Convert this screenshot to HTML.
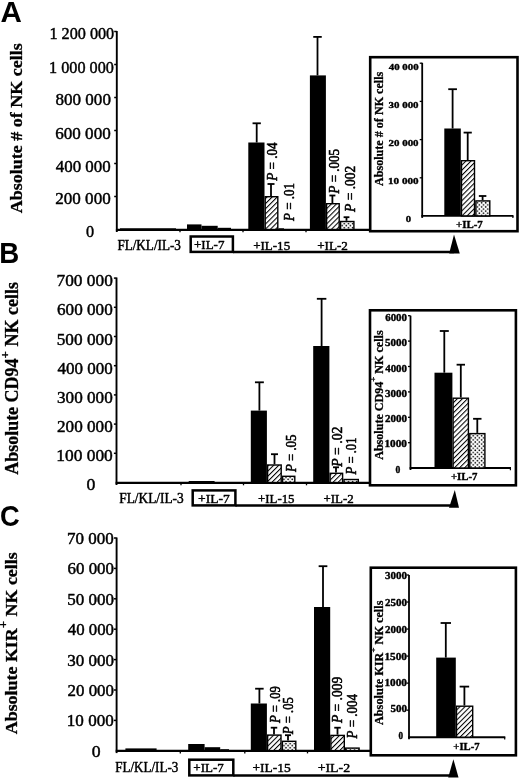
<!DOCTYPE html>
<html><head><meta charset="utf-8"><title>Figure</title>
<style>html,body{margin:0;padding:0;background:#fff;}svg{display:block;will-change:transform;}text{fill:#000;}</style></head>
<body><svg width="520" height="780" viewBox="0 0 520 780">
<defs>
<pattern id="hatch" patternUnits="userSpaceOnUse" width="3.6" height="3.6" patternTransform="rotate(-45)">
<rect width="3.6" height="3.6" fill="#fff"/><rect x="0" y="0" width="3.6" height="1.05" fill="#000"/></pattern>
<pattern id="dots" patternUnits="userSpaceOnUse" width="4.16" height="4.16">
<rect width="4.16" height="4.16" fill="#fff"/><circle cx="1.04" cy="1.04" r="0.85" fill="#000"/><circle cx="3.12" cy="3.12" r="0.85" fill="#000"/></pattern>
</defs>
<rect x="0" y="0" width="520" height="780" fill="#fff"/>
<line x1="116.8" y1="31.0" x2="116.8" y2="232.0" stroke="#000" stroke-width="1.9"/>
<line x1="115.89999999999999" y1="229.8" x2="371" y2="229.8" stroke="#000" stroke-width="2.2"/>
<line x1="114.2" y1="31.5" x2="116.8" y2="31.5" stroke="#000" stroke-width="1.5"/>
<line x1="114.2" y1="64.5" x2="116.8" y2="64.5" stroke="#000" stroke-width="1.5"/>
<line x1="114.2" y1="97.5" x2="116.8" y2="97.5" stroke="#000" stroke-width="1.5"/>
<line x1="114.2" y1="130.5" x2="116.8" y2="130.5" stroke="#000" stroke-width="1.5"/>
<line x1="114.2" y1="163.5" x2="116.8" y2="163.5" stroke="#000" stroke-width="1.5"/>
<line x1="114.2" y1="196.5" x2="116.8" y2="196.5" stroke="#000" stroke-width="1.5"/>
<line x1="180.0" y1="229.5" x2="180.0" y2="232.3" stroke="#000" stroke-width="1.3"/>
<line x1="243.0" y1="229.5" x2="243.0" y2="232.3" stroke="#000" stroke-width="1.3"/>
<line x1="306.0" y1="229.5" x2="306.0" y2="232.3" stroke="#000" stroke-width="1.3"/>
<rect x="120.00" y="228.30" width="56.00" height="1.20" fill="#000"/>
<rect x="187.00" y="224.40" width="14.50" height="5.10" fill="#000"/>
<rect x="201.50" y="225.80" width="16.20" height="3.70" fill="#000"/>
<rect x="217.70" y="227.80" width="13.30" height="1.70" fill="#000"/>
<rect x="248.30" y="142.50" width="16.20" height="87.00" fill="#000"/>
<line x1="256.7" y1="123.3" x2="256.7" y2="142.5" stroke="#000" stroke-width="1.8"/>
<rect x="252.55" y="122.40" width="8.30" height="1.80" fill="#000"/>
<rect x="265.20" y="196.70" width="12.60" height="32.80" fill="url(#hatch)" stroke="#000" stroke-width="1.4"/>
<line x1="271.0" y1="184.0" x2="271.0" y2="196.0" stroke="#000" stroke-width="1.8"/>
<rect x="267.50" y="183.10" width="7.00" height="1.80" fill="#000"/>
<rect x="278.50" y="228.30" width="5.50" height="1.20" fill="#000"/>
<rect x="309.90" y="75.40" width="16.00" height="154.10" fill="#000"/>
<line x1="317.5" y1="36.9" x2="317.5" y2="75.4" stroke="#000" stroke-width="1.8"/>
<rect x="313.25" y="36.00" width="8.50" height="1.80" fill="#000"/>
<rect x="326.60" y="203.70" width="12.60" height="25.80" fill="url(#hatch)" stroke="#000" stroke-width="1.4"/>
<line x1="332.4" y1="195.5" x2="332.4" y2="203.0" stroke="#000" stroke-width="1.8"/>
<rect x="329.40" y="194.60" width="6.00" height="1.80" fill="#000"/>
<rect x="340.60" y="221.50" width="13.30" height="8.00" fill="url(#dots)" stroke="#000" stroke-width="1.4"/>
<line x1="346.5" y1="217.2" x2="346.5" y2="220.8" stroke="#000" stroke-width="1.8"/>
<rect x="343.60" y="216.30" width="5.80" height="1.80" fill="#000"/>
<rect x="190.7" y="236.5" width="42.20000000000002" height="15.400000000000006" fill="none" stroke="#000" stroke-width="2.5"/>
<line x1="232.9" y1="251.9" x2="454.0" y2="251.9" stroke="#000" stroke-width="2.5"/>
<polygon points="454.0,234.6 459.8,253.4 449.2,253.4" fill="#000"/>
<rect x="370.2" y="57.2" width="147.3" height="174.0" fill="#fff" stroke="#000" stroke-width="2.6"/>
<line x1="422.2" y1="62.8" x2="422.2" y2="217.9" stroke="#000" stroke-width="1.8"/>
<line x1="421.3" y1="215.9" x2="513.5" y2="215.9" stroke="#000" stroke-width="1.9"/>
<line x1="512.9" y1="215.9" x2="512.9" y2="218.1" stroke="#000" stroke-width="1.2"/>
<line x1="419.7" y1="63.2" x2="422.2" y2="63.2" stroke="#000" stroke-width="1.3"/>
<line x1="419.7" y1="101.4" x2="422.2" y2="101.4" stroke="#000" stroke-width="1.3"/>
<line x1="419.7" y1="139.60000000000002" x2="422.2" y2="139.60000000000002" stroke="#000" stroke-width="1.3"/>
<line x1="419.7" y1="177.8" x2="422.2" y2="177.8" stroke="#000" stroke-width="1.3"/>
<rect x="444.30" y="128.50" width="16.50" height="87.40" fill="#000"/>
<line x1="452.6" y1="89.2" x2="452.6" y2="128.5" stroke="#000" stroke-width="1.8"/>
<rect x="448.25" y="88.30" width="8.70" height="1.80" fill="#000"/>
<rect x="461.50" y="160.70" width="13.00" height="55.20" fill="url(#hatch)" stroke="#000" stroke-width="1.4"/>
<line x1="467.7" y1="132.6" x2="467.7" y2="160.0" stroke="#000" stroke-width="1.8"/>
<rect x="463.60" y="131.70" width="8.20" height="1.80" fill="#000"/>
<rect x="475.90" y="200.90" width="13.90" height="15.00" fill="url(#dots)" stroke="#000" stroke-width="1.4"/>
<line x1="482.6" y1="196.0" x2="482.6" y2="200.2" stroke="#000" stroke-width="1.8"/>
<rect x="478.85" y="195.10" width="7.50" height="1.80" fill="#000"/>
<line x1="116.5" y1="277.5" x2="116.5" y2="485.0" stroke="#000" stroke-width="1.9"/>
<line x1="115.6" y1="482.8" x2="371" y2="482.8" stroke="#000" stroke-width="2.2"/>
<line x1="113.9" y1="278.1" x2="116.5" y2="278.1" stroke="#000" stroke-width="1.5"/>
<line x1="113.9" y1="307.3" x2="116.5" y2="307.3" stroke="#000" stroke-width="1.5"/>
<line x1="113.9" y1="336.5" x2="116.5" y2="336.5" stroke="#000" stroke-width="1.5"/>
<line x1="113.9" y1="365.70000000000005" x2="116.5" y2="365.70000000000005" stroke="#000" stroke-width="1.5"/>
<line x1="113.9" y1="394.90000000000003" x2="116.5" y2="394.90000000000003" stroke="#000" stroke-width="1.5"/>
<line x1="113.9" y1="424.1" x2="116.5" y2="424.1" stroke="#000" stroke-width="1.5"/>
<line x1="113.9" y1="453.3" x2="116.5" y2="453.3" stroke="#000" stroke-width="1.5"/>
<line x1="181.0" y1="482.5" x2="181.0" y2="485.3" stroke="#000" stroke-width="1.3"/>
<line x1="243.5" y1="482.5" x2="243.5" y2="485.3" stroke="#000" stroke-width="1.3"/>
<line x1="306.5" y1="482.5" x2="306.5" y2="485.3" stroke="#000" stroke-width="1.3"/>
<rect x="188.70" y="481.00" width="25.90" height="1.50" fill="#000"/>
<rect x="250.80" y="410.60" width="16.10" height="71.90" fill="#000"/>
<line x1="259.4" y1="382.3" x2="259.4" y2="410.6" stroke="#000" stroke-width="1.8"/>
<rect x="254.95" y="381.40" width="8.90" height="1.80" fill="#000"/>
<rect x="267.60" y="465.00" width="13.60" height="17.50" fill="url(#hatch)" stroke="#000" stroke-width="1.4"/>
<line x1="274.5" y1="454.2" x2="274.5" y2="464.3" stroke="#000" stroke-width="1.8"/>
<rect x="271.00" y="453.30" width="7.00" height="1.80" fill="#000"/>
<rect x="282.60" y="476.30" width="12.20" height="6.20" fill="url(#dots)" stroke="#000" stroke-width="1.4"/>
<rect x="313.20" y="346.00" width="16.20" height="136.50" fill="#000"/>
<line x1="321.6" y1="298.8" x2="321.6" y2="346.0" stroke="#000" stroke-width="1.8"/>
<rect x="316.85" y="297.90" width="9.50" height="1.80" fill="#000"/>
<rect x="330.10" y="473.30" width="12.50" height="9.20" fill="url(#hatch)" stroke="#000" stroke-width="1.4"/>
<line x1="336.0" y1="467.3" x2="336.0" y2="472.6" stroke="#000" stroke-width="1.8"/>
<rect x="333.00" y="466.40" width="6.00" height="1.80" fill="#000"/>
<rect x="344.00" y="479.50" width="14.30" height="3.00" fill="url(#dots)" stroke="#000" stroke-width="1.4"/>
<rect x="192.7" y="490.4" width="42.70000000000002" height="15.0" fill="none" stroke="#000" stroke-width="2.5"/>
<line x1="235.4" y1="505.4" x2="454.8" y2="505.4" stroke="#000" stroke-width="2.5"/>
<polygon points="454.8,490.0 459.0,507.7 449.0,507.7" fill="#000"/>
<rect x="370.0" y="310.3" width="145.89999999999998" height="175.0" fill="#fff" stroke="#000" stroke-width="2.6"/>
<line x1="410.5" y1="315.7" x2="410.5" y2="470.0" stroke="#000" stroke-width="1.8"/>
<line x1="409.6" y1="468.0" x2="511.0" y2="468.0" stroke="#000" stroke-width="1.9"/>
<line x1="510.4" y1="468.0" x2="510.4" y2="470.2" stroke="#000" stroke-width="1.2"/>
<line x1="408.0" y1="315.7" x2="410.5" y2="315.7" stroke="#000" stroke-width="1.3"/>
<line x1="408.0" y1="341.09999999999997" x2="410.5" y2="341.09999999999997" stroke="#000" stroke-width="1.3"/>
<line x1="408.0" y1="366.5" x2="410.5" y2="366.5" stroke="#000" stroke-width="1.3"/>
<line x1="408.0" y1="391.9" x2="410.5" y2="391.9" stroke="#000" stroke-width="1.3"/>
<line x1="408.0" y1="417.29999999999995" x2="410.5" y2="417.29999999999995" stroke="#000" stroke-width="1.3"/>
<line x1="408.0" y1="442.7" x2="410.5" y2="442.7" stroke="#000" stroke-width="1.3"/>
<rect x="434.50" y="372.70" width="17.90" height="95.30" fill="#000"/>
<line x1="444.3" y1="331.0" x2="444.3" y2="372.7" stroke="#000" stroke-width="1.8"/>
<rect x="439.80" y="330.10" width="9.00" height="1.80" fill="#000"/>
<rect x="453.10" y="398.20" width="15.30" height="69.80" fill="url(#hatch)" stroke="#000" stroke-width="1.4"/>
<line x1="460.8" y1="364.7" x2="460.8" y2="397.5" stroke="#000" stroke-width="1.8"/>
<rect x="456.60" y="363.80" width="8.40" height="1.80" fill="#000"/>
<rect x="469.80" y="433.60" width="15.10" height="34.40" fill="url(#dots)" stroke="#000" stroke-width="1.4"/>
<line x1="477.3" y1="418.8" x2="477.3" y2="432.9" stroke="#000" stroke-width="1.8"/>
<rect x="473.10" y="417.90" width="8.40" height="1.80" fill="#000"/>
<line x1="116.6" y1="537.5" x2="116.6" y2="753.1" stroke="#000" stroke-width="1.9"/>
<line x1="115.69999999999999" y1="750.9" x2="371" y2="750.9" stroke="#000" stroke-width="2.2"/>
<line x1="114.0" y1="538.0" x2="116.6" y2="538.0" stroke="#000" stroke-width="1.5"/>
<line x1="114.0" y1="568.4" x2="116.6" y2="568.4" stroke="#000" stroke-width="1.5"/>
<line x1="114.0" y1="598.8" x2="116.6" y2="598.8" stroke="#000" stroke-width="1.5"/>
<line x1="114.0" y1="629.2" x2="116.6" y2="629.2" stroke="#000" stroke-width="1.5"/>
<line x1="114.0" y1="659.6" x2="116.6" y2="659.6" stroke="#000" stroke-width="1.5"/>
<line x1="114.0" y1="690.0" x2="116.6" y2="690.0" stroke="#000" stroke-width="1.5"/>
<line x1="114.0" y1="720.4" x2="116.6" y2="720.4" stroke="#000" stroke-width="1.5"/>
<line x1="180.3" y1="750.6" x2="180.3" y2="753.4" stroke="#000" stroke-width="1.3"/>
<line x1="244.8" y1="750.6" x2="244.8" y2="753.4" stroke="#000" stroke-width="1.3"/>
<line x1="307.5" y1="750.6" x2="307.5" y2="753.4" stroke="#000" stroke-width="1.3"/>
<rect x="125.40" y="748.40" width="31.20" height="2.20" fill="#000"/>
<rect x="188.20" y="744.00" width="16.40" height="6.60" fill="#000"/>
<rect x="204.60" y="747.20" width="15.60" height="3.40" fill="#000"/>
<rect x="220.20" y="749.20" width="8.80" height="1.40" fill="#000"/>
<rect x="250.80" y="703.50" width="16.10" height="47.10" fill="#000"/>
<line x1="259.4" y1="688.7" x2="259.4" y2="703.5" stroke="#000" stroke-width="1.8"/>
<rect x="255.15" y="687.80" width="8.50" height="1.80" fill="#000"/>
<rect x="267.60" y="735.10" width="13.40" height="15.50" fill="url(#hatch)" stroke="#000" stroke-width="1.4"/>
<line x1="274.0" y1="727.7" x2="274.0" y2="734.4" stroke="#000" stroke-width="1.8"/>
<rect x="270.75" y="726.80" width="6.50" height="1.80" fill="#000"/>
<rect x="282.40" y="741.30" width="13.40" height="9.30" fill="url(#dots)" stroke="#000" stroke-width="1.4"/>
<line x1="288.0" y1="735.2" x2="288.0" y2="740.6" stroke="#000" stroke-width="1.8"/>
<rect x="285.00" y="734.30" width="6.00" height="1.80" fill="#000"/>
<rect x="314.00" y="607.00" width="16.20" height="143.60" fill="#000"/>
<line x1="323.0" y1="566.2" x2="323.0" y2="607.0" stroke="#000" stroke-width="1.8"/>
<rect x="318.65" y="565.30" width="8.70" height="1.80" fill="#000"/>
<rect x="330.90" y="735.40" width="13.40" height="15.20" fill="url(#hatch)" stroke="#000" stroke-width="1.4"/>
<line x1="337.5" y1="727.7" x2="337.5" y2="734.7" stroke="#000" stroke-width="1.8"/>
<rect x="334.25" y="726.80" width="6.50" height="1.80" fill="#000"/>
<rect x="345.70" y="748.10" width="13.40" height="2.50" fill="url(#dots)" stroke="#000" stroke-width="1.4"/>
<rect x="189.3" y="759.7" width="44.0" height="15.699999999999932" fill="none" stroke="#000" stroke-width="2.5"/>
<line x1="233.3" y1="775.4" x2="453.4" y2="775.4" stroke="#000" stroke-width="2.5"/>
<polygon points="453.4,759.2 458.5,777.4 448.2,777.4" fill="#000"/>
<rect x="370.8" y="567.7" width="145.09999999999997" height="187.5999999999999" fill="#fff" stroke="#000" stroke-width="2.6"/>
<line x1="409.0" y1="575.0" x2="409.0" y2="739.2" stroke="#000" stroke-width="1.8"/>
<line x1="408.1" y1="737.2" x2="505.3" y2="737.2" stroke="#000" stroke-width="1.9"/>
<line x1="504.7" y1="737.2" x2="504.7" y2="739.4000000000001" stroke="#000" stroke-width="1.2"/>
<line x1="406.5" y1="575.0" x2="409.0" y2="575.0" stroke="#000" stroke-width="1.3"/>
<line x1="406.5" y1="602.03" x2="409.0" y2="602.03" stroke="#000" stroke-width="1.3"/>
<line x1="406.5" y1="629.06" x2="409.0" y2="629.06" stroke="#000" stroke-width="1.3"/>
<line x1="406.5" y1="656.09" x2="409.0" y2="656.09" stroke="#000" stroke-width="1.3"/>
<line x1="406.5" y1="683.12" x2="409.0" y2="683.12" stroke="#000" stroke-width="1.3"/>
<line x1="406.5" y1="710.15" x2="409.0" y2="710.15" stroke="#000" stroke-width="1.3"/>
<rect x="436.20" y="657.60" width="19.60" height="79.60" fill="#000"/>
<line x1="445.8" y1="623.0" x2="445.8" y2="657.6" stroke="#000" stroke-width="1.8"/>
<rect x="440.60" y="622.10" width="10.40" height="1.80" fill="#000"/>
<rect x="456.50" y="706.20" width="16.20" height="31.00" fill="url(#hatch)" stroke="#000" stroke-width="1.4"/>
<line x1="464.4" y1="686.6" x2="464.4" y2="705.5" stroke="#000" stroke-width="1.8"/>
<rect x="459.65" y="685.70" width="9.50" height="1.80" fill="#000"/>
<text id="LA" x="0.50" y="21.50" textLength="21.37" lengthAdjust="spacingAndGlyphs" style="font-family:'Liberation Sans', sans-serif;font-weight:bold;font-style:normal;font-size:29.17px">A</text>
<text id="LB" x="-0.75" y="262.70" textLength="19.99" lengthAdjust="spacingAndGlyphs" style="font-family:'Liberation Sans', sans-serif;font-weight:bold;font-style:normal;font-size:29.17px">B</text>
<text id="LC" x="-0.00" y="526.40" textLength="19.71" lengthAdjust="spacingAndGlyphs" style="font-family:'Liberation Sans', sans-serif;font-weight:bold;font-style:normal;font-size:29.88px">C</text>
<text id="YA" transform="translate(21.75,213.30) rotate(-90)" textLength="170.00" lengthAdjust="spacingAndGlyphs" style="font-family:'Liberation Serif', serif;font-weight:bold;font-style:normal;font-size:17.57px;stroke:#000;stroke-width:0.30px;stroke-linejoin:round">Absolute # of NK cells</text>
<text id="YB" transform="translate(18.25,474.85) rotate(-90)" textLength="192.75" lengthAdjust="spacingAndGlyphs" style="font-family:'Liberation Serif', serif;font-weight:bold;font-style:normal;font-size:17.84px;stroke:#000;stroke-width:0.30px;stroke-linejoin:round">Absolute CD94<tspan class="sup" font-size="12.85" font-weight="bold" dy="-9.28">+</tspan><tspan dy="9.28"> NK cells</tspan></text>
<text id="YC" transform="translate(16.50,734.25) rotate(-90)" textLength="182.00" lengthAdjust="spacingAndGlyphs" style="font-family:'Liberation Serif', serif;font-weight:bold;font-style:normal;font-size:17.46px;stroke:#000;stroke-width:0.30px;stroke-linejoin:round">Absolute KIR<tspan class="sup" font-size="12.57" font-weight="bold" dy="-9.08">+</tspan><tspan dy="9.08"> NK cells</tspan></text>
<text id="TA0" x="49.40" y="39.00" textLength="64.78" lengthAdjust="spacingAndGlyphs" style="font-family:'Liberation Serif', serif;font-weight:normal;font-style:normal;font-size:16.71px;stroke:#000;stroke-width:0.45px;stroke-linejoin:round">1 200 000</text>
<text id="TA1" x="49.05" y="72.50" textLength="64.80" lengthAdjust="spacingAndGlyphs" style="font-family:'Liberation Serif', serif;font-weight:normal;font-style:normal;font-size:16.71px;stroke:#000;stroke-width:0.45px;stroke-linejoin:round">1 000 000</text>
<text id="TA2" x="55.50" y="105.00" textLength="55.42" lengthAdjust="spacingAndGlyphs" style="font-family:'Liberation Serif', serif;font-weight:normal;font-style:normal;font-size:16.71px;stroke:#000;stroke-width:0.45px;stroke-linejoin:round">800 000</text>
<text id="TA3" x="55.25" y="138.50" textLength="55.48" lengthAdjust="spacingAndGlyphs" style="font-family:'Liberation Serif', serif;font-weight:normal;font-style:normal;font-size:16.71px;stroke:#000;stroke-width:0.45px;stroke-linejoin:round">600 000</text>
<text id="TA4" x="55.75" y="171.50" textLength="54.96" lengthAdjust="spacingAndGlyphs" style="font-family:'Liberation Serif', serif;font-weight:normal;font-style:normal;font-size:16.71px;stroke:#000;stroke-width:0.45px;stroke-linejoin:round">400 000</text>
<text id="TA5" x="55.25" y="204.20" textLength="55.48" lengthAdjust="spacingAndGlyphs" style="font-family:'Liberation Serif', serif;font-weight:normal;font-style:normal;font-size:16.71px;stroke:#000;stroke-width:0.45px;stroke-linejoin:round">200 000</text>
<text id="TA6" x="85.95" y="237.00" textLength="8.10" lengthAdjust="spacingAndGlyphs" style="font-family:'Liberation Serif', serif;font-weight:normal;font-style:normal;font-size:16.71px;stroke:#000;stroke-width:0.45px;stroke-linejoin:round">0</text>
<text id="TB0" x="56.50" y="286.10" textLength="56.29" lengthAdjust="spacingAndGlyphs" style="font-family:'Liberation Serif', serif;font-weight:normal;font-style:normal;font-size:16.71px;stroke:#000;stroke-width:0.45px;stroke-linejoin:round">700 000</text>
<text id="TB1" x="57.00" y="315.30" textLength="55.77" lengthAdjust="spacingAndGlyphs" style="font-family:'Liberation Serif', serif;font-weight:normal;font-style:normal;font-size:16.71px;stroke:#000;stroke-width:0.45px;stroke-linejoin:round">600 000</text>
<text id="TB2" x="56.75" y="344.50" textLength="56.03" lengthAdjust="spacingAndGlyphs" style="font-family:'Liberation Serif', serif;font-weight:normal;font-style:normal;font-size:16.71px;stroke:#000;stroke-width:0.45px;stroke-linejoin:round">500 000</text>
<text id="TB3" x="57.50" y="373.70" textLength="55.25" lengthAdjust="spacingAndGlyphs" style="font-family:'Liberation Serif', serif;font-weight:normal;font-style:normal;font-size:16.71px;stroke:#000;stroke-width:0.45px;stroke-linejoin:round">400 000</text>
<text id="TB4" x="57.00" y="402.90" textLength="55.77" lengthAdjust="spacingAndGlyphs" style="font-family:'Liberation Serif', serif;font-weight:normal;font-style:normal;font-size:16.71px;stroke:#000;stroke-width:0.45px;stroke-linejoin:round">300 000</text>
<text id="TB5" x="57.00" y="432.10" textLength="55.77" lengthAdjust="spacingAndGlyphs" style="font-family:'Liberation Serif', serif;font-weight:normal;font-style:normal;font-size:16.71px;stroke:#000;stroke-width:0.45px;stroke-linejoin:round">200 000</text>
<text id="TB6" x="56.25" y="461.30" textLength="56.55" lengthAdjust="spacingAndGlyphs" style="font-family:'Liberation Serif', serif;font-weight:normal;font-style:normal;font-size:16.71px;stroke:#000;stroke-width:0.45px;stroke-linejoin:round">100 000</text>
<text id="TB7" x="86.50" y="490.10" textLength="8.87" lengthAdjust="spacingAndGlyphs" style="font-family:'Liberation Serif', serif;font-weight:normal;font-style:normal;font-size:16.71px;stroke:#000;stroke-width:0.45px;stroke-linejoin:round">0</text>
<text id="TC0" x="67.05" y="544.05" textLength="46.76" lengthAdjust="spacingAndGlyphs" style="font-family:'Liberation Serif', serif;font-weight:normal;font-style:normal;font-size:15.85px;stroke:#000;stroke-width:0.45px;stroke-linejoin:round">70 000</text>
<text id="TC1" x="67.55" y="574.45" textLength="46.48" lengthAdjust="spacingAndGlyphs" style="font-family:'Liberation Serif', serif;font-weight:normal;font-style:normal;font-size:15.85px;stroke:#000;stroke-width:0.45px;stroke-linejoin:round">60 000</text>
<text id="TC2" x="67.30" y="604.85" textLength="46.75" lengthAdjust="spacingAndGlyphs" style="font-family:'Liberation Serif', serif;font-weight:normal;font-style:normal;font-size:15.85px;stroke:#000;stroke-width:0.45px;stroke-linejoin:round">50 000</text>
<text id="TC3" x="67.80" y="635.25" textLength="46.22" lengthAdjust="spacingAndGlyphs" style="font-family:'Liberation Serif', serif;font-weight:normal;font-style:normal;font-size:15.85px;stroke:#000;stroke-width:0.45px;stroke-linejoin:round">40 000</text>
<text id="TC4" x="67.30" y="665.65" textLength="46.75" lengthAdjust="spacingAndGlyphs" style="font-family:'Liberation Serif', serif;font-weight:normal;font-style:normal;font-size:15.85px;stroke:#000;stroke-width:0.45px;stroke-linejoin:round">30 000</text>
<text id="TC5" x="67.55" y="696.05" textLength="46.48" lengthAdjust="spacingAndGlyphs" style="font-family:'Liberation Serif', serif;font-weight:normal;font-style:normal;font-size:15.85px;stroke:#000;stroke-width:0.45px;stroke-linejoin:round">20 000</text>
<text id="TC6" x="66.80" y="726.45" textLength="47.03" lengthAdjust="spacingAndGlyphs" style="font-family:'Liberation Serif', serif;font-weight:normal;font-style:normal;font-size:15.85px;stroke:#000;stroke-width:0.45px;stroke-linejoin:round">10 000</text>
<text id="TC7" x="91.80" y="757.25" textLength="8.85" lengthAdjust="spacingAndGlyphs" style="font-family:'Liberation Serif', serif;font-weight:normal;font-style:normal;font-size:15.85px;stroke:#000;stroke-width:0.45px;stroke-linejoin:round">0</text>
<text id="IA0" x="388.80" y="70.00" textLength="29.75" lengthAdjust="spacingAndGlyphs" style="font-family:'Liberation Serif', serif;font-weight:bold;font-style:normal;font-size:8.66px;stroke:#000;stroke-width:0.35px;stroke-linejoin:round">40 000</text>
<text id="IA1" x="388.55" y="107.50" textLength="30.03" lengthAdjust="spacingAndGlyphs" style="font-family:'Liberation Serif', serif;font-weight:bold;font-style:normal;font-size:8.66px;stroke:#000;stroke-width:0.35px;stroke-linejoin:round">30 000</text>
<text id="IA2" x="388.55" y="145.90" textLength="30.03" lengthAdjust="spacingAndGlyphs" style="font-family:'Liberation Serif', serif;font-weight:bold;font-style:normal;font-size:8.66px;stroke:#000;stroke-width:0.35px;stroke-linejoin:round">20 000</text>
<text id="IA3" x="388.05" y="184.20" textLength="30.55" lengthAdjust="spacingAndGlyphs" style="font-family:'Liberation Serif', serif;font-weight:bold;font-style:normal;font-size:8.66px;stroke:#000;stroke-width:0.35px;stroke-linejoin:round">10 000</text>
<text id="IA4" x="405.75" y="221.50" textLength="5.33" lengthAdjust="spacingAndGlyphs" style="font-family:'Liberation Serif', serif;font-weight:bold;font-style:normal;font-size:8.66px;stroke:#000;stroke-width:0.35px;stroke-linejoin:round">0</text>
<text id="IB0" x="385.20" y="321.40" textLength="21.77" lengthAdjust="spacingAndGlyphs" style="font-family:'Liberation Serif', serif;font-weight:bold;font-style:normal;font-size:9.34px;stroke:#000;stroke-width:0.35px;stroke-linejoin:round">6000</text>
<text id="IB1" x="384.95" y="346.10" textLength="22.02" lengthAdjust="spacingAndGlyphs" style="font-family:'Liberation Serif', serif;font-weight:bold;font-style:normal;font-size:9.34px;stroke:#000;stroke-width:0.35px;stroke-linejoin:round">5000</text>
<text id="IB2" x="385.20" y="371.50" textLength="21.76" lengthAdjust="spacingAndGlyphs" style="font-family:'Liberation Serif', serif;font-weight:bold;font-style:normal;font-size:9.34px;stroke:#000;stroke-width:0.35px;stroke-linejoin:round">4000</text>
<text id="IB3" x="384.95" y="396.50" textLength="22.02" lengthAdjust="spacingAndGlyphs" style="font-family:'Liberation Serif', serif;font-weight:bold;font-style:normal;font-size:9.34px;stroke:#000;stroke-width:0.35px;stroke-linejoin:round">3000</text>
<text id="IB4" x="384.95" y="421.90" textLength="22.02" lengthAdjust="spacingAndGlyphs" style="font-family:'Liberation Serif', serif;font-weight:bold;font-style:normal;font-size:9.34px;stroke:#000;stroke-width:0.35px;stroke-linejoin:round">2000</text>
<text id="IB5" x="384.45" y="447.30" textLength="22.54" lengthAdjust="spacingAndGlyphs" style="font-family:'Liberation Serif', serif;font-weight:bold;font-style:normal;font-size:9.34px;stroke:#000;stroke-width:0.35px;stroke-linejoin:round">1000</text>
<text id="IB6" x="395.40" y="473.10" textLength="4.80" lengthAdjust="spacingAndGlyphs" style="font-family:'Liberation Serif', serif;font-weight:bold;font-style:normal;font-size:9.34px;stroke:#000;stroke-width:0.35px;stroke-linejoin:round">0</text>
<text id="IC0" x="384.95" y="578.70" textLength="22.02" lengthAdjust="spacingAndGlyphs" style="font-family:'Liberation Serif', serif;font-weight:bold;font-style:normal;font-size:9.68px;stroke:#000;stroke-width:0.35px;stroke-linejoin:round">3000</text>
<text id="IC1" x="384.95" y="606.00" textLength="22.02" lengthAdjust="spacingAndGlyphs" style="font-family:'Liberation Serif', serif;font-weight:bold;font-style:normal;font-size:9.68px;stroke:#000;stroke-width:0.35px;stroke-linejoin:round">2500</text>
<text id="IC2" x="384.95" y="633.05" textLength="22.02" lengthAdjust="spacingAndGlyphs" style="font-family:'Liberation Serif', serif;font-weight:bold;font-style:normal;font-size:9.68px;stroke:#000;stroke-width:0.35px;stroke-linejoin:round">2000</text>
<text id="IC3" x="384.45" y="659.70" textLength="22.55" lengthAdjust="spacingAndGlyphs" style="font-family:'Liberation Serif', serif;font-weight:bold;font-style:normal;font-size:9.68px;stroke:#000;stroke-width:0.35px;stroke-linejoin:round">1500</text>
<text id="IC4" x="384.45" y="686.00" textLength="22.55" lengthAdjust="spacingAndGlyphs" style="font-family:'Liberation Serif', serif;font-weight:bold;font-style:normal;font-size:9.68px;stroke:#000;stroke-width:0.35px;stroke-linejoin:round">1000</text>
<text id="IC5" x="390.45" y="712.35" textLength="16.53" lengthAdjust="spacingAndGlyphs" style="font-family:'Liberation Serif', serif;font-weight:bold;font-style:normal;font-size:9.68px;stroke:#000;stroke-width:0.35px;stroke-linejoin:round">500</text>
<text id="IC6" x="398.55" y="739.15" textLength="4.56" lengthAdjust="spacingAndGlyphs" style="font-family:'Liberation Serif', serif;font-weight:bold;font-style:normal;font-size:9.68px;stroke:#000;stroke-width:0.35px;stroke-linejoin:round">0</text>
<text id="JA" transform="translate(382.95,186.00) rotate(-90)" textLength="114.25" lengthAdjust="spacingAndGlyphs" style="font-family:'Liberation Serif', serif;font-weight:bold;font-style:normal;font-size:12.23px;stroke:#000;stroke-width:0.30px;stroke-linejoin:round">Absolute # of NK cells</text>
<text id="JB" transform="translate(382.80,459.85) rotate(-90)" textLength="129.50" lengthAdjust="spacingAndGlyphs" style="font-family:'Liberation Serif', serif;font-weight:bold;font-style:normal;font-size:12.21px;stroke:#000;stroke-width:0.30px;stroke-linejoin:round">Absolute CD94<tspan class="sup" font-size="8.79" font-weight="bold" dy="-6.35">+</tspan><tspan dy="6.35"> NK cells</tspan></text>
<text id="JC" transform="translate(382.80,725.05) rotate(-90)" textLength="124.50" lengthAdjust="spacingAndGlyphs" style="font-family:'Liberation Serif', serif;font-weight:bold;font-style:normal;font-size:12.39px;stroke:#000;stroke-width:0.30px;stroke-linejoin:round">Absolute KIR<tspan class="sup" font-size="8.92" font-weight="bold" dy="-6.44">+</tspan><tspan dy="6.44"> NK cells</tspan></text>
<text id="XA1" x="117.40" y="249.90" textLength="63.50" lengthAdjust="spacingAndGlyphs" style="font-family:'Liberation Serif', serif;font-weight:normal;font-style:normal;font-size:13.90px;stroke:#000;stroke-width:0.45px;stroke-linejoin:round">FL/KL/IL-3</text>
<text id="XA2" x="193.95" y="249.25" textLength="30.51" lengthAdjust="spacingAndGlyphs" style="font-family:'Liberation Serif', serif;font-weight:normal;font-style:normal;font-size:13.07px;stroke:#000;stroke-width:0.45px;stroke-linejoin:round">+IL-7</text>
<text id="XA3" x="253.15" y="250.20" textLength="37.01" lengthAdjust="spacingAndGlyphs" style="font-family:'Liberation Serif', serif;font-weight:normal;font-style:normal;font-size:13.07px;stroke:#000;stroke-width:0.45px;stroke-linejoin:round">+IL-15</text>
<text id="XA4" x="317.15" y="250.20" textLength="30.77" lengthAdjust="spacingAndGlyphs" style="font-family:'Liberation Serif', serif;font-weight:normal;font-style:normal;font-size:13.07px;stroke:#000;stroke-width:0.45px;stroke-linejoin:round">+IL-2</text>
<text id="XB1" x="119.25" y="502.95" textLength="64.50" lengthAdjust="spacingAndGlyphs" style="font-family:'Liberation Serif', serif;font-weight:normal;font-style:normal;font-size:13.90px;stroke:#000;stroke-width:0.45px;stroke-linejoin:round">FL/KL/IL-3</text>
<text id="XB2" x="198.00" y="503.25" textLength="31.77" lengthAdjust="spacingAndGlyphs" style="font-family:'Liberation Serif', serif;font-weight:normal;font-style:normal;font-size:13.07px;stroke:#000;stroke-width:0.45px;stroke-linejoin:round">+IL-7</text>
<text id="XB3" x="258.00" y="503.40" textLength="36.52" lengthAdjust="spacingAndGlyphs" style="font-family:'Liberation Serif', serif;font-weight:normal;font-style:normal;font-size:13.07px;stroke:#000;stroke-width:0.45px;stroke-linejoin:round">+IL-15</text>
<text id="XB4" x="323.45" y="503.40" textLength="30.27" lengthAdjust="spacingAndGlyphs" style="font-family:'Liberation Serif', serif;font-weight:normal;font-style:normal;font-size:13.07px;stroke:#000;stroke-width:0.45px;stroke-linejoin:round">+IL-2</text>
<text id="XC1" x="115.25" y="772.25" textLength="63.00" lengthAdjust="spacingAndGlyphs" style="font-family:'Liberation Serif', serif;font-weight:normal;font-style:normal;font-size:13.90px;stroke:#000;stroke-width:0.45px;stroke-linejoin:round">FL/KL/IL-3</text>
<text id="XC2" x="193.30" y="772.20" textLength="30.51" lengthAdjust="spacingAndGlyphs" style="font-family:'Liberation Serif', serif;font-weight:normal;font-style:normal;font-size:13.07px;stroke:#000;stroke-width:0.45px;stroke-linejoin:round">+IL-7</text>
<text id="XC3" x="252.50" y="771.50" textLength="38.27" lengthAdjust="spacingAndGlyphs" style="font-family:'Liberation Serif', serif;font-weight:normal;font-style:normal;font-size:13.07px;stroke:#000;stroke-width:0.45px;stroke-linejoin:round">+IL-15</text>
<text id="XC4" x="317.65" y="771.50" textLength="32.53" lengthAdjust="spacingAndGlyphs" style="font-family:'Liberation Serif', serif;font-weight:normal;font-style:normal;font-size:13.07px;stroke:#000;stroke-width:0.45px;stroke-linejoin:round">+IL-2</text>
<text id="KA" x="456.00" y="228.30" textLength="26.76" lengthAdjust="spacingAndGlyphs" style="font-family:'Liberation Serif', serif;font-weight:bold;font-style:normal;font-size:10.53px;stroke:#000;stroke-width:0.35px;stroke-linejoin:round">+IL-7</text>
<text id="KB" x="450.95" y="480.30" textLength="26.51" lengthAdjust="spacingAndGlyphs" style="font-family:'Liberation Serif', serif;font-weight:bold;font-style:normal;font-size:10.53px;stroke:#000;stroke-width:0.35px;stroke-linejoin:round">+IL-7</text>
<text id="KC" x="453.30" y="749.50" textLength="26.26" lengthAdjust="spacingAndGlyphs" style="font-family:'Liberation Serif', serif;font-weight:bold;font-style:normal;font-size:10.53px;stroke:#000;stroke-width:0.35px;stroke-linejoin:round">+IL-7</text>
<text id="PA1" transform="translate(276.80,180.75) rotate(-90)" textLength="38.26" lengthAdjust="spacingAndGlyphs" style="font-family:'Liberation Serif', serif;font-weight:normal;font-style:normal;font-size:14.00px;stroke:#000;stroke-width:0.55px;stroke-linejoin:round"><tspan font-style="italic">P</tspan> = .04</text>
<text id="PA2" transform="translate(294.15,220.90) rotate(-90)" textLength="38.01" lengthAdjust="spacingAndGlyphs" style="font-family:'Liberation Serif', serif;font-weight:normal;font-style:normal;font-size:14.00px;stroke:#000;stroke-width:0.55px;stroke-linejoin:round"><tspan font-style="italic">P</tspan> = .01</text>
<text id="PA3" transform="translate(339.10,193.45) rotate(-90)" textLength="44.50" lengthAdjust="spacingAndGlyphs" style="font-family:'Liberation Serif', serif;font-weight:normal;font-style:normal;font-size:14.00px;stroke:#000;stroke-width:0.55px;stroke-linejoin:round"><tspan font-style="italic">P</tspan> = .005</text>
<text id="PA4" transform="translate(354.50,211.95) rotate(-90)" textLength="46.25" lengthAdjust="spacingAndGlyphs" style="font-family:'Liberation Serif', serif;font-weight:normal;font-style:normal;font-size:14.00px;stroke:#000;stroke-width:0.55px;stroke-linejoin:round"><tspan font-style="italic">P</tspan> = .002</text>
<text id="PB1" transform="translate(296.40,472.05) rotate(-90)" textLength="37.50" lengthAdjust="spacingAndGlyphs" style="font-family:'Liberation Serif', serif;font-weight:normal;font-style:normal;font-size:14.00px;stroke:#000;stroke-width:0.55px;stroke-linejoin:round"><tspan font-style="italic">P</tspan> = .05</text>
<text id="PB2" transform="translate(341.85,466.75) rotate(-90)" textLength="40.25" lengthAdjust="spacingAndGlyphs" style="font-family:'Liberation Serif', serif;font-weight:normal;font-style:normal;font-size:14.00px;stroke:#000;stroke-width:0.55px;stroke-linejoin:round"><tspan font-style="italic">P</tspan> = .02</text>
<text id="PB3" transform="translate(356.30,474.50) rotate(-90)" textLength="37.00" lengthAdjust="spacingAndGlyphs" style="font-family:'Liberation Serif', serif;font-weight:normal;font-style:normal;font-size:14.00px;stroke:#000;stroke-width:0.55px;stroke-linejoin:round"><tspan font-style="italic">P</tspan> = .01</text>
<text id="PC1" transform="translate(279.80,723.05) rotate(-90)" textLength="37.00" lengthAdjust="spacingAndGlyphs" style="font-family:'Liberation Serif', serif;font-weight:normal;font-style:normal;font-size:14.00px;stroke:#000;stroke-width:0.55px;stroke-linejoin:round"><tspan font-style="italic">P</tspan> = .09</text>
<text id="PC2" transform="translate(293.45,734.15) rotate(-90)" textLength="37.00" lengthAdjust="spacingAndGlyphs" style="font-family:'Liberation Serif', serif;font-weight:normal;font-style:normal;font-size:14.00px;stroke:#000;stroke-width:0.55px;stroke-linejoin:round"><tspan font-style="italic">P</tspan> = .05</text>
<text id="PC3" transform="translate(341.95,723.00) rotate(-90)" textLength="46.25" lengthAdjust="spacingAndGlyphs" style="font-family:'Liberation Serif', serif;font-weight:normal;font-style:normal;font-size:14.00px;stroke:#000;stroke-width:0.55px;stroke-linejoin:round"><tspan font-style="italic">P</tspan> = .009</text>
<text id="PC4" transform="translate(357.20,738.40) rotate(-90)" textLength="44.50" lengthAdjust="spacingAndGlyphs" style="font-family:'Liberation Serif', serif;font-weight:normal;font-style:normal;font-size:14.00px;stroke:#000;stroke-width:0.55px;stroke-linejoin:round"><tspan font-style="italic">P</tspan> = .004</text>
</svg></body></html>
